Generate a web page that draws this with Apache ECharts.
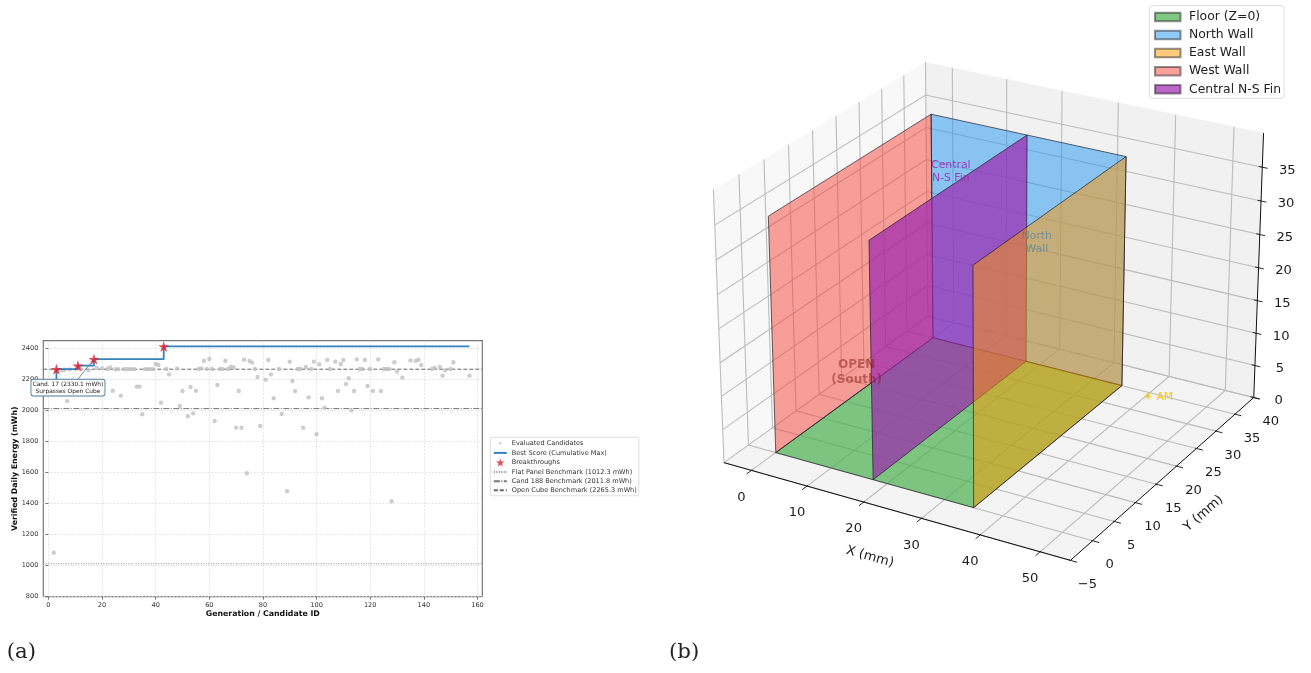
<!DOCTYPE html>
<html><head><meta charset="utf-8">
<style>html,body{margin:0;padding:0;background:#fff}#c{width:1311px;height:673px}</style>
<script src="https://cdn.jsdelivr.net/npm/echarts@6/dist/echarts.min.js"></script>
</head><body><div id="c"></div>
<script>
// ---------- panel (a) data ----------
const candidates = [[2,1083],[5,2258],[6,2262],[7,2060],[8,2264],[12,2267],[15,2258],[18,2275],[20,2271],[22,2267],[23,2277],[24,2127],[25,2265],[26,2265],[27,2095],[28,2266],[29,2266],[30,2266],[31,2266],[32,2266],[33,2153],[34,2153],[35,1975],[36,2266],[37,2266],[38,2266],[39,2266],[40,2299],[41,2292],[42,2050],[44,2267],[45,2232],[48,2271],[49,2028],[50,2125],[52,1962],[53,2151],[54,1981],[55,2127],[56,2267],[57,2271],[58,2320],[59,2267],[60,2331],[61,2267],[62,1932],[63,2164],[64,2267],[65,2267],[66,2320],[67,2267],[68,2280],[69,2277],[70,1889],[71,2125],[72,1889],[73,2327],[74,1595],[75,2318],[76,2308],[77,2267],[78,2215],[79,1900],[81,2198],[82,2325],[83,2232],[84,2078],[86,2267],[87,1977],[89,1480],[90,2314],[91,2189],[92,2125],[93,2267],[94,2267],[95,1889],[96,2280],[97,2084],[98,2267],[99,2314],[100,1846],[101,2297],[102,2078],[103,2018],[104,2325],[105,2267],[107,2314],[108,2125],[109,2299],[110,2325],[111,2170],[112,2207],[113,2000],[114,2125],[115,2329],[116,2267],[117,2267],[118,2325],[119,2157],[120,2267],[121,2125],[123,2329],[124,2125],[125,2267],[126,2267],[127,2267],[128,1415],[129,2310],[130,2250],[132,2211],[135,2322],[137,2318],[138,2327],[139,2292],[143,2267],[144,2275],[146,2280],[147,2224],[148,2258],[150,2267],[151,2310],[157,2224]];
const bestScore = [[3,2195],[3,2265.3],[11,2288],[17,2330.1],[43,2412],[157,2412]];
const breakthroughs = [[3,2265.3],[11,2288],[17,2330.1],[43,2412]];
const xTicks = [0,20,40,60,80,100,120,140,160];
const yTicks = [800,1000,1200,1400,1600,1800,2000,2200,2400];
const xRange = [-1.9,161.8];
const yRange = [800,2449];
const flatPanel = 1012.3, cand188 = 2011.8, openCube = 2265.3;
const annotationAnchor = [7.3,2147], annotationTip = [17,2330.1], annotationStart = [10.7,2195];
// ---------- panel (b) data ----------
const floorCorners = [[0,0,0],[35,0,0],[35,35,0],[0,35,0]];
const northCorners = [[0,35,0],[35,35,0],[35,35,35],[0,35,35]];
const eastCorners  = [[35,0,0],[35,35,0],[35,35,35],[35,0,35]];
const westCorners  = [[0,0,0],[0,35,0],[0,35,35],[0,0,35]];
const finCorners   = [[17.5,0,0],[17.5,35,0],[17.5,35,35],[17.5,0,35]];
const limX = [-5,55], limY = [-5,40], limZ = [0,40];
const ticksX = [0,10,20,30,40,50];
const ticksY = [-5,0,5,10,15,20,25,30,35,40];
const ticksZ = [0,5,10,15,20,25,30,35];
const notes3D = [
  {at:[17.5,17.5,37], text:'Central\nN-S Fin', color:'rgba(156,39,176,.85)', weight:'normal', size:10.8},
  {at:[17.5,37.5,17.5], text:'North\nWall', color:'rgba(70,125,165,.62)', weight:'normal', size:10.8},
  {at:[17.5,-3,17.5], text:'OPEN\n(South)', color:'rgba(130,20,20,.47)', weight:'bold', size:12},
  {at:[50,22.4,8], text:'\u2600 AM', color:'#ffc107', weight:'normal', size:10.8}
];

// matplotlib-style camera (elev 25, azim -60, dist 10, box 4:4:3)
const ELEV = 25*Math.PI/180, AZIM = -60*Math.PI/180, DIST = 10;
const BOX = (()=>{const k=1.8294640721620434*25/24/Math.hypot(4,4,3);return [4*k,4*k,3*k];})();
const W = [Math.cos(ELEV)*Math.cos(AZIM),Math.cos(ELEV)*Math.sin(AZIM),Math.sin(ELEV)];
const U = (()=>{const n=Math.hypot(W[0],W[1]);return [-W[1]/n,W[0]/n,0];})();
const V = [W[1]*U[2]-W[2]*U[1],W[2]*U[0]-W[0]*U[2],W[0]*U[1]-W[1]*U[0]];
function project(p){
  const r=[((p[0]-limX[0])/(limX[1]-limX[0])-.5)*BOX[0],((p[1]-limY[0])/(limY[1]-limY[0])-.5)*BOX[1],((p[2]-limZ[0])/(limZ[1]-limZ[0])-.5)*BOX[2]];
  const dot=(a,b)=>a[0]*b[0]+a[1]*b[1]+a[2]*b[2];
  const d=DIST-dot(r,W);
  return [dot(r,U)/d,dot(r,V)/d];
}
// hidden plane axes: image-plane coordinates -> pixels through the library's scales
const planeX=[-.1,.09], planeY=[-.1,.08];
const SCALE=3318, CX=994, CY=297.7;

const FONT='"DejaVu Sans"';
const starPath='path://M50 0L61.8 35.3L98 35.3L68.8 57.1L79.4 91L50 70L20.6 91L31.2 57.1L2 35.3L38.2 35.3Z';
const dotIcon='path://M0 0L0.01 0M100 100L100 100.01M50 33A17 17 0 1 1 49.99 33Z';

function poly3D(name,corners,color,z){
  return {name,type:'custom',xAxisIndex:1,yAxisIndex:1,z,silent:true,clip:false,data:[[0,0]],
    itemStyle:{color,borderColor:'rgba(0,0,0,.42)',borderWidth:.9},
    renderItem:(params,api)=>({type:'polygon',shape:{points:corners.map(c=>api.coord(project(c)))},
      style:{fill:color,stroke:'rgba(20,20,30,.72)',lineWidth:.9}})};
}
function frame3D(){
  const [x0,x1]=limX,[y0,y1]=limY,[z0,z1]=limZ;
  return {type:'custom',xAxisIndex:1,yAxisIndex:1,z:2,silent:true,clip:false,data:[[0,0]],
    renderItem:(params,api)=>{
      const P=p=>api.coord(project(p));
      const pane=(c,fill)=>({type:'polygon',shape:{points:c.map(P)},style:{fill,stroke:fill,lineWidth:.5}});
      const gl=(pts)=>({type:'polyline',shape:{points:pts.map(P)},style:{fill:null,stroke:'#bcbcbc',lineWidth:1.1}});
      const ch=[
        pane([[x0,y0,z0],[x0,y1,z0],[x0,y1,z1],[x0,y0,z1]],'#f8f8f8'),
        pane([[x0,y1,z0],[x1,y1,z0],[x1,y1,z1],[x0,y1,z1]],'#f1f1f1'),
        pane([[x0,y0,z0],[x1,y0,z0],[x1,y1,z0],[x0,y1,z0]],'#f4f4f4')];
      ticksX.forEach(t=>ch.push(gl([[t,y0,z0],[t,y1,z0],[t,y1,z1]])));
      ticksY.forEach(t=>ch.push(gl([[x1,t,z0],[x0,t,z0],[x0,t,z1]])));
      ticksZ.forEach(t=>ch.push(gl([[x0,y0,t],[x0,y1,t],[x1,y1,t]])));
      return {type:'group',children:ch};
    }};
}
function axes3D(){
  const [x0,x1]=limX,[y0,y1]=limY,[z0,z1]=limZ;
  return {type:'custom',xAxisIndex:1,yAxisIndex:1,z:20,silent:true,clip:false,data:[[0,0]],
    renderItem:(params,api)=>{
      const P=p=>api.coord(project(p));
      const ln=(a,b,w)=>({type:'line',shape:{x1:P(a)[0],y1:P(a)[1],x2:P(b)[0],y2:P(b)[1]},style:{stroke:'#111',lineWidth:w}});
      const lab=(pt,dx,dy,s)=>({type:'text',x:pt[0]+dx,y:pt[1]+dy,style:{text:s,font:'13.1px '+FONT,fill:'#1a1a1a',align:'center',verticalAlign:'middle'}});
      const ch=[ln([x0,y0,z0],[x1,y0,z0],1),ln([x1,y0,z0],[x1,y1,z0],1),ln([x1,y1,z0],[x1,y1,z1],1)];
      ticksX.forEach(t=>{ch.push(ln([t,y0+.2,z0],[t,y0-1,z0],.9));ch.push(lab(P([t,y0,z0]),-10,27,String(t)));});
      ticksY.forEach(t=>{ch.push(ln([x1-.2,t,z0],[x1+1.1,t,z0],.9));ch.push(lab(P([x1,t,z0]),17,24,String(t).replace('-','\u2212')));});
      ticksZ.forEach(t=>{ch.push(ln([x1-.6,y1,t],[x1+.9,y1,t],.9));ch.push(lab(P([x1,y1,t]),25,3,String(t)));});
      const xm=P([25,y0,z0]), ym=P([x1,17.5,z0]);
      ch.push({type:'text',x:xm[0]-22.5,y:xm[1]+46.7,rotation:-.27,style:{text:'X (mm)',font:'13.1px '+FONT,fill:'#1a1a1a',align:'center',verticalAlign:'middle'}});
      ch.push({type:'text',x:ym[0]+37,y:ym[1]+38.4,rotation:.72,style:{text:'Y (mm)',font:'13.1px '+FONT,fill:'#1a1a1a',align:'center',verticalAlign:'middle'}});
      notes3D.forEach(n=>{const q=P(n.at);ch.push({type:'text',x:q[0],y:q[1],style:{text:n.text,font:n.weight+' '+n.size+'px '+FONT,fill:n.color,align:'center',verticalAlign:'middle',lineHeight:n.size*1.2}});});
      return {type:'group',children:ch};
    }};
}
const noSymbol='path://M0 0L0.01 0M100 100L100 100.01';
function hline(name,v,type,color,width){
  return {name,type:'line',xAxisIndex:0,yAxisIndex:0,z:3,symbol:noSymbol,showSymbol:false,silent:true,animation:false,
    data:[[xRange[0],v],[xRange[1],v]],lineStyle:{color,type,width},itemStyle:{color}};
}
const option={
  animation:false,backgroundColor:'#fff',
  textStyle:{fontFamily:FONT},
  grid:[
    {left:43.3,top:340.7,width:439,height:256,show:true,borderColor:'#777',borderWidth:1.2,backgroundColor:'#fff'},
    {left:CX+planeX[0]*SCALE,width:(planeX[1]-planeX[0])*SCALE,top:CY-planeY[1]*SCALE,height:(planeY[1]-planeY[0])*SCALE,show:false}
  ],
  xAxis:[
    {type:'value',gridIndex:0,min:xRange[0],max:xRange[1],name:'Generation / Candidate ID',nameLocation:'middle',nameGap:13.5,nameMoveOverlap:false,
     nameTextStyle:{fontSize:7.8,fontWeight:'bold',color:'#111',fontFamily:FONT},
     axisLine:{show:false},axisTick:{show:true,length:3,lineStyle:{color:'#555',width:.8},customValues:xTicks},
     axisLabel:{customValues:xTicks,fontSize:6.55,color:'#333',margin:5,fontFamily:FONT,formatter:v=>String(v),showMinLabel:true,showMaxLabel:true},
     splitLine:{show:true,lineStyle:{color:'#ddd',type:[2,1.5],width:.8}}},
    {type:'value',gridIndex:1,min:planeX[0],max:planeX[1],show:false,splitLine:{show:false}}
  ],
  yAxis:[
    {type:'value',gridIndex:0,min:yRange[0],max:yRange[1],name:'Verified Daily Energy (mWh)',nameLocation:'middle',nameGap:24.5,nameMoveOverlap:false,
     nameTextStyle:{fontSize:7.8,fontWeight:'bold',color:'#111',fontFamily:FONT},
     axisLine:{show:false},axisTick:{show:true,length:3,lineStyle:{color:'#555',width:.8},customValues:yTicks},
     axisLabel:{customValues:yTicks,fontSize:6.55,color:'#333',margin:5,fontFamily:FONT,formatter:v=>String(v),showMinLabel:true},
     splitLine:{show:true,lineStyle:{color:'#ddd',type:[2,1.5],width:.8}}},
    {type:'value',gridIndex:1,min:planeY[0],max:planeY[1],show:false,splitLine:{show:false}}
  ],
  legend:[
    {left:490.3,top:437.3,orient:'vertical',align:'left',padding:[2,2,2,2.5],itemWidth:13,itemHeight:8,itemGap:2.1,selectedMode:false,
     backgroundColor:'#fff',borderColor:'#ddd',borderWidth:1,borderRadius:2,
     textStyle:{fontSize:6.55,color:'#333',fontFamily:FONT},
     data:[{name:'Evaluated Candidates',icon:dotIcon},'Best Score (Cumulative Max)',{name:'Breakthroughs',icon:starPath},
       'Flat Panel Benchmark (1012.3 mWh)','Cand 188 Benchmark (2011.8 mWh)','Open Cube Benchmark (2265.3 mWh)']},
    {left:1149.3,top:5.7,orient:'vertical',align:'left',padding:[5.2,3,3,4.7],itemWidth:25.5,itemHeight:8.5,itemGap:6.1,selectedMode:false,
     backgroundColor:'#fff',borderColor:'#ddd',borderWidth:1,borderRadius:3,icon:'rect',
     textStyle:{fontSize:12.4,color:'#222',fontFamily:FONT,padding:[0,0,0,3.5]},
     data:['Floor (Z=0)','North Wall','East Wall','West Wall','Central N-S Fin']}
  ],
  graphic:[
    {type:'text',left:6.7,top:642,style:{text:'(a)',font:'21.3px "DejaVu Serif"',fill:'#222'}},
    {type:'text',left:669,top:642,style:{text:'(b)',font:'21.3px "DejaVu Serif"',fill:'#222'}}
  ],
  series:[
    {name:'Evaluated Candidates',type:'scatter',xAxisIndex:0,yAxisIndex:0,z:4,silent:true,symbolSize:4.4,data:candidates,itemStyle:{color:'#c0c0c0'}},
    hline('Flat Panel Benchmark (1012.3 mWh)',flatPanel,[1,1.5],'#888',1),
    hline('Cand 188 Benchmark (2011.8 mWh)',cand188,[6,1.5,1,1.5],'#777',1),
    hline('Open Cube Benchmark (2265.3 mWh)',openCube,[4,2],'#666',1),
    {name:'Best Score (Cumulative Max)',type:'line',xAxisIndex:0,yAxisIndex:0,z:5,step:'end',symbol:noSymbol,showSymbol:false,silent:true,data:bestScore,lineStyle:{color:'#3182bd',width:1.8},itemStyle:{color:'#3182bd'}},
    {type:'custom',xAxisIndex:0,yAxisIndex:0,z:6,silent:true,clip:false,data:[annotationAnchor],
     renderItem:(params,api)=>{
       const a=api.coord(annotationStart),b=api.coord(annotationTip),c=api.coord(annotationAnchor);
       return {type:'group',children:[
         {type:'line',shape:{x1:a[0],y1:a[1],x2:b[0],y2:b[1]},style:{stroke:'#5f7f98',lineWidth:.9}},
         {type:'text',x:c[0],y:c[1],style:{text:'Cand. 17 (2330.1 mWh)\nSurpasses Open Cube',font:'5.9px '+FONT,fill:'#222',align:'center',verticalAlign:'middle',lineHeight:7,backgroundColor:'#fff',borderColor:'#4d7a96',borderWidth:.9,borderRadius:2,padding:[1.2,1.2,0.6,1.2]}}
       ]};
     }},
    {name:'Breakthroughs',type:'scatter',xAxisIndex:0,yAxisIndex:0,z:7,silent:true,symbol:starPath,symbolSize:11,data:breakthroughs,itemStyle:{color:'#e0212e'}},
    frame3D(),
    poly3D('North Wall',northCorners,'rgba(33,150,243,.5)',10),
    poly3D('Floor (Z=0)',floorCorners,'rgba(76,175,80,.7)',11),
    poly3D('West Wall',westCorners,'rgba(244,67,54,.5)',12),
    poly3D('Central N-S Fin',finCorners,'rgba(156,39,176,.7)',13),
    poly3D('East Wall',eastCorners,'rgba(255,152,0,.5)',14),
    axes3D()
  ]
};
const chart=echarts.init(document.getElementById('c'),null,{renderer:'canvas'});
chart.setOption(option);
</script></body></html>
